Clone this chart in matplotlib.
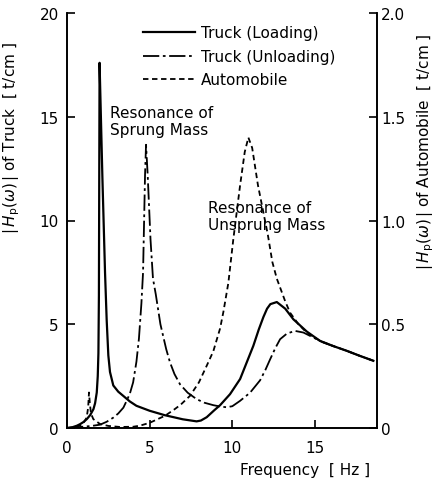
import matplotlib
matplotlib.use("Agg")
import matplotlib.pyplot as plt

plt.rcParams['font.family'] = ['DejaVu Sans']
plt.rcParams['mathtext.fontset'] = 'dejavusans'

# Truck (Loading) [t/cm], left axis
f_load = [0.0, 0.3, 0.6, 0.8, 1.0, 1.2, 1.4, 1.6, 1.7, 1.8, 1.86, 1.9, 1.93, 1.95, 1.97,
          2.05, 2.14, 2.3, 2.4, 2.5, 2.6, 2.8, 3.1, 3.4, 3.8, 4.2, 5.0, 5.9, 7.0, 7.5,
          7.84, 8.1, 8.45, 8.9, 9.26, 9.86, 10.47, 10.87, 11.27, 11.6, 11.88, 12.1, 12.3,
          12.69, 13.2, 13.69, 14.5, 15.3, 16.1, 16.92, 17.7, 18.53]
h_load = [0.0, 0.03, 0.11, 0.19, 0.29, 0.43, 0.62, 0.91, 1.2, 1.71, 2.5, 3.6, 6.4, 12.1, 17.6,
          15.0, 12.1, 7.5, 5.2, 3.5, 2.7, 2.05, 1.75, 1.55, 1.28, 1.07, 0.83, 0.62, 0.42, 0.36,
          0.32, 0.36, 0.52, 0.85, 1.1, 1.63, 2.36, 3.16, 3.96, 4.75, 5.35, 5.75, 5.97,
          6.07, 5.75, 5.24, 4.65, 4.2, 3.95, 3.72, 3.48, 3.24]

# Truck (Unloading) [t/cm], left axis
f_unload = [0.0, 0.5, 0.8, 1.5, 2.0, 2.4, 2.8, 3.1, 3.41, 3.6, 3.8, 4.0, 4.2, 4.35, 4.5,
            4.6, 4.72, 4.78, 4.88, 5.05, 5.2, 5.37, 5.65, 6.0, 6.23, 6.5, 6.84, 7.3,
            7.84, 8.3, 8.85, 9.3, 9.66, 10.0, 10.47, 11.07, 11.68, 12.0, 12.28, 12.6,
            12.89, 13.3, 13.79, 14.3, 14.9, 15.5, 16.1, 16.92, 17.7, 18.53]
h_unload = [0.0, 0.02, 0.05, 0.1, 0.16, 0.3, 0.5, 0.7, 0.98, 1.3, 1.65, 2.2, 3.2, 4.3, 6.0,
            7.5, 12.2, 13.65, 12.2, 9.1, 7.2, 6.44, 5.0, 3.8, 3.16, 2.6, 2.1, 1.7,
            1.39, 1.22, 1.1, 1.03, 1.0, 1.05, 1.31, 1.7, 2.3, 2.8, 3.3, 3.85,
            4.28, 4.55, 4.68, 4.6, 4.36, 4.12, 3.95, 3.72, 3.48, 3.24]

# Automobile [t/cm], right axis
f_auto = [0.0, 0.5, 0.8, 1.0, 1.19, 1.28, 1.33, 1.38, 1.45, 1.59, 2.0, 2.5, 3.2, 4.0, 4.4,
          5.0, 5.93, 6.5, 6.87, 7.44, 7.98, 8.45, 8.85, 9.26, 9.46, 9.76, 10.06, 10.47,
          10.75, 10.97, 11.2, 11.55, 11.85, 12.15, 12.42, 12.69, 13.2, 13.49, 14.0,
          14.5, 15.3, 16.1, 16.92, 17.7, 18.53]
h_auto = [0.0, 0.005, 0.012, 0.025, 0.05, 0.1, 0.171, 0.12, 0.07, 0.043, 0.019, 0.01, 0.005,
          0.006, 0.011, 0.025, 0.059, 0.09, 0.112, 0.155, 0.22, 0.3, 0.37, 0.48, 0.56,
          0.70, 0.91, 1.17, 1.33, 1.40, 1.35, 1.17, 1.05, 0.93, 0.80, 0.72, 0.61, 0.556,
          0.50, 0.46, 0.42, 0.395, 0.372, 0.348, 0.324]

x_ticks = [0, 5, 10, 15]
y_ticks = [0, 5, 10, 15, 20]
y2_ticks = [0, 0.5, 1.0, 1.5, 2.0]
y2_labels = ['0', '0.5', '1.0', '1.5', '2.0']

fig = plt.figure(figsize=(4.35, 4.81), dpi=100)
ax = fig.add_axes([67/435, 1 - 429/481, 310/435, 415/481])
ax2 = ax.twinx()

l1, = ax.plot(f_load, h_load, color='black', lw=1.6, label='Truck (Loading)')
l2, = ax.plot(f_unload, h_unload, color='black', lw=1.3, dashes=(9, 2, 1.5, 2),
              label='Truck (Unloading)')
l3, = ax2.plot(f_auto, h_auto, color='black', lw=1.3, dashes=(3, 2),
               label='Automobile')

ax.set_xlim(0, 18.75)
ax.set_ylim(0, 20)
ax2.set_ylim(0, 2.0)
ax.set_xticks(x_ticks)
ax.set_yticks(y_ticks)
ax2.set_yticks(y2_ticks)
ax2.set_yticklabels(y2_labels)

for a in (ax, ax2):
    a.spines['top'].set_visible(False)
    for s in a.spines.values():
        s.set_linewidth(1.2)
ax.tick_params(axis='x', direction='in', length=6, width=1.2, labelsize=11, pad=9)
ax.tick_params(axis='y', direction='in', length=6, width=1.2, labelsize=11, pad=6)
ax2.tick_params(axis='y', direction='in', length=6, width=1.2, labelsize=11, pad=3)

ax.set_xlabel('Frequency  [ Hz ]', fontsize=11)
ax.xaxis.set_label_coords(0.768, -0.082)
ax.set_ylabel(r'$|\,H_{\rm p}(\omega)\,|$ of Truck  [ t/cm ]', fontsize=11)
ax.yaxis.set_label_coords(-0.145, 0.70)
ax2.set_ylabel(r'$|\,H_{\rm p}(\omega)\,|$ of Automobile  [ t/cm ]', fontsize=11,
               rotation=90)
ax2.yaxis.set_label_coords(1.125, 0.667)

ax.legend(handles=[l1, l2, l3], loc='upper left', bbox_to_anchor=(0.245, 0.97),
          frameon=False, fontsize=11, handlelength=3.4, handletextpad=0.4,
          labelspacing=0.55, borderpad=0, borderaxespad=0)

ax.text((110 - 67)/310, (429 - 122)/415, 'Resonance of\nSprung Mass',
        transform=ax.transAxes, fontsize=11, ha='left', va='center', linespacing=1.2)
ax.text((208 - 67)/310, (429 - 217)/415, 'Resonance of\nUnsprung Mass',
        transform=ax.transAxes, fontsize=11, ha='left', va='center', linespacing=1.2)

fig.savefig('out.png', dpi=100)
